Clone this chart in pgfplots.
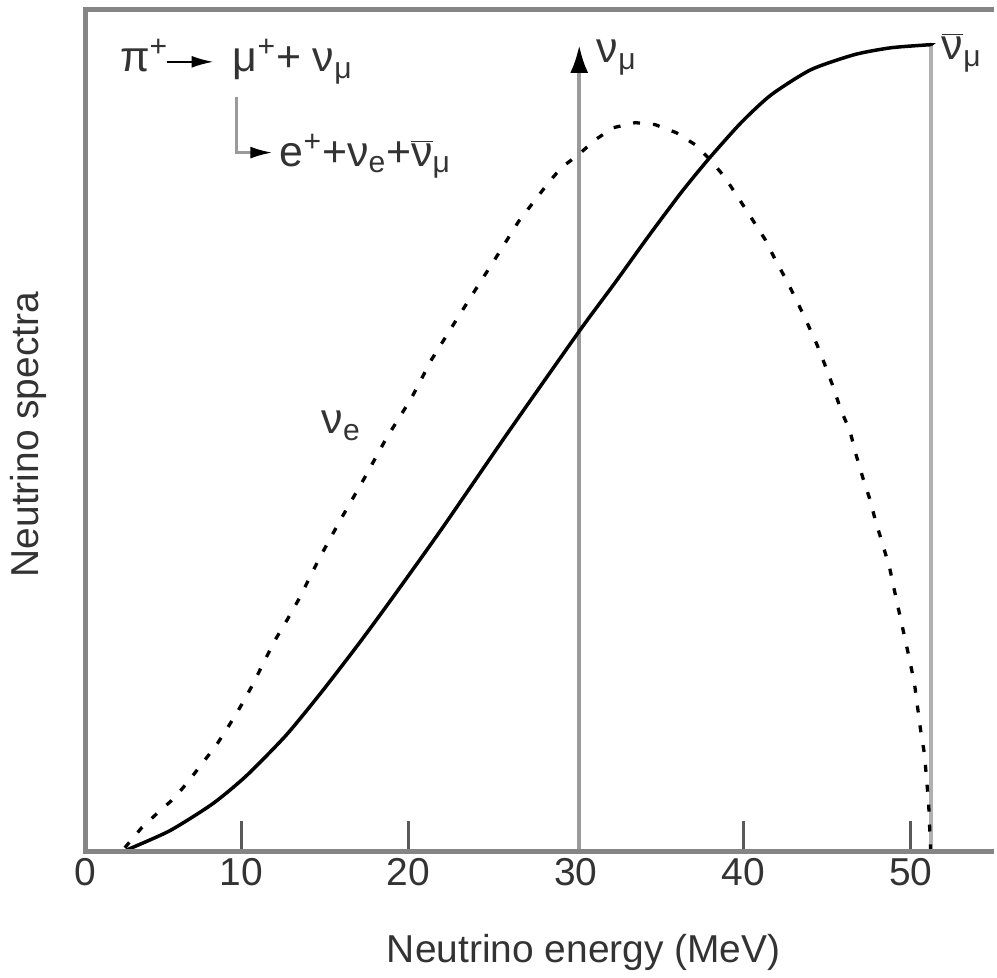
\documentclass[border=0pt]{standalone}
\usepackage{pgfplots}
\pgfplotsset{compat=1.18}
\usepackage{fontspec}
\setmainfont{Liberation Sans}
\usetikzlibrary{arrows.meta}
\definecolor{framegray}{HTML}{858585}
\definecolor{linegray}{HTML}{9A9A9A}
\definecolor{linegraylight}{HTML}{B0B0B0}
\definecolor{tickgray}{HTML}{5A5A5A}
\definecolor{txt}{HTML}{333333}
\newcommand{\lblfont}{\fontsize{19.5}{23}\selectfont}
\newcommand{\eqfont}{\fontsize{21.5}{25}\selectfont}
\begin{document}
\begin{tikzpicture}
\begin{axis}[name=ax, scale only axis, width=455.5pt, height=421.5pt,
  xmin=0.727, xmax=55, ymin=0, ymax=100,
  axis line style={draw=none},
  xtick={0.727,10,20,40,50}, xticklabels={0,10,20,40,50},
  extra x ticks={30}, extra x tick labels={30},
  extra x tick style={major tick length=0pt},
  ytick=\empty,
  xtick pos=left, tick align=inside, major tick length=15pt,
  xtick style={draw=tickgray, line width=1.5pt},
  xticklabel style={font=\lblfont, text=txt},
  xlabel={Neutrino energy (MeV)}, ylabel={Neutrino spectra},
  xlabel style={at={(rel axis cs:0.548,-0.1329)}, anchor=base, font=\lblfont, text=txt},
  ylabel style={at={(rel axis cs:-0.0516,0.495)}, anchor=base, font=\lblfont, text=txt},
  clip=false,
]
% nu_mu monochromatic line (pi decay at rest)
\addplot[linegray, line width=2pt, -{Latex[length=14pt,width=9pt,color=black]}] coordinates {(30.2,0) (30.2,95.85)};
% endpoint of anti-nu_mu spectrum
\addplot[linegraylight, line width=2pt] coordinates {(51.19,0) (51.19,95.85)};
% anti-nu_mu spectrum (solid)
\addplot[black, line width=1.75pt, smooth, tension=0.4] coordinates {
(3.17,0.1) (5.73,2.37) (8.29,5.57) (10.32,8.92) (12.70,13.76) (14.85,18.98)
(17.05,24.67) (19.02,30.01) (22.00,38.32) (25.81,49.35) (30.16,61.68)
(32.36,67.62) (34.33,73.07) (36.29,78.29) (37.90,82.21) (39.87,86.6)
(41.66,89.9) (44.04,92.9) (46.66,94.7) (48.80,95.5) (51.01,95.85) (51.19,95.85)};
% nu_e spectrum (dashed)
\addplot[black, line width=1.65pt, dash pattern=on 3.5pt off 6.5pt] coordinates {
(3.06,0.36) (4.06,2.73) (5.02,4.51) (6.03,6.29) (6.92,8.42) (7.70,10.44)
(8.53,12.57) (9.30,14.95) (10.02,17.32) (10.68,19.69) (11.27,22.06) (11.99,24.91)
(12.70,27.28) (13.48,30.01) (14.67,34.76) (15.98,39.50) (17.35,44.25) (18.66,48.99)
(20.15,53.74) (21.40,58.48) (22.89,63.23) (24.32,67.73) (25.09,70.11) (26.58,74.85)
(28.37,79.48) (29.14,81.26) (30.16,82.80) (31.17,84.58) (32.24,86.00) (33.55,86.60)
(34.74,86.36) (35.99,85.41) (37.12,83.99) (38.02,82.21) (38.91,80.07) (39.69,77.70)
(40.46,75.33) (41.30,72.72) (41.90,70.34) (42.55,67.97) (43.15,65.60) (43.74,63.11)
(44.34,60.50) (44.88,57.77) (45.35,55.28) (45.83,52.43) (46.37,49.94) (46.72,47.21)
(47.14,44.37) (47.55,41.87) (47.91,39.15) (48.33,36.42) (48.75,33.57) (49.04,30.84)
(49.34,28.11) (49.64,25.39) (49.94,22.66) (50.23,19.81) (50.41,17.08) (50.59,14.35)
(50.83,11.39) (50.95,8.42) (51.07,5.69) (51.13,2.85) (51.19,0)};
\end{axis}
\begin{scope}[shift={([xshift=-43pt,yshift=5pt]ax.north west)}, x=0.5pt, y=-0.5pt]
\path (0,0) rectangle (997,974);
% frame (left, top, bottom)
\draw[framegray, line width=2.6pt, line join=miter] (997,9.7) -- (85.5,9.7) -- (85.5,853.5) -- (997,853.5);
% decay scheme
\begin{scope}[every node/.style={anchor=base west, inner sep=0pt, text=txt, font=\eqfont}]
\node at (120,72) {π\textsuperscript{+}};
\draw[black, line width=1pt, -{Latex[length=11pt,width=6pt]}] (167,62) -- (214,62);
\node at (233,72) {μ\textsuperscript{+}+ ν\textsubscript{μ}};
\draw[linegray, line width=1.2pt, -{Latex[length=11pt,width=6pt,color=black]}] (237,97) -- (237,153) -- (273,153);
\node at (280,167) {e\textsuperscript{+}+ν\textsubscript{e}+$\overline{\mbox{ν}}$\textsubscript{μ}};
% curve labels
\node at (322,435) {ν\textsubscript{e}};
\node at (598,63) {ν\textsubscript{μ}};
\node at (944,60) {$\overline{\mbox{ν}}$\textsubscript{μ}};
\end{scope}
\end{scope}
\end{tikzpicture}
\end{document}
